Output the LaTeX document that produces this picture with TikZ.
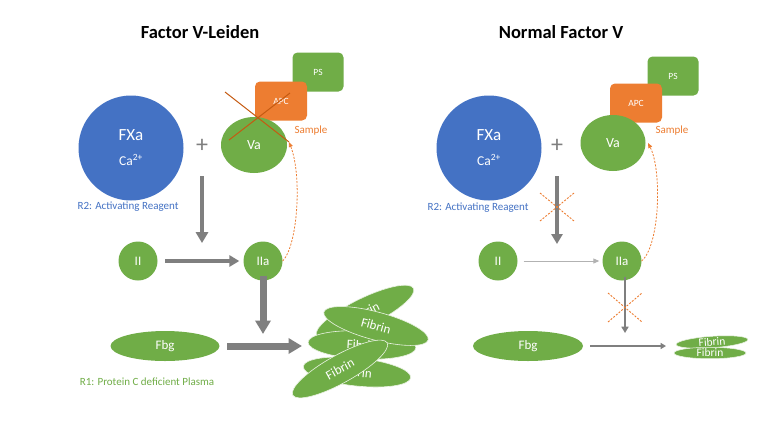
\documentclass[tikz,border=0pt]{standalone}
\usepackage{fontspec}
\setmainfont{Carlito}
\usetikzlibrary{arrows.meta,shapes.geometric,calc}
\definecolor{cblue}{HTML}{4472C4}
\definecolor{cgreen}{HTML}{70AD47}
\definecolor{corange}{HTML}{ED7D31}
\definecolor{cdark}{HTML}{C55A11}
\definecolor{cgray}{HTML}{7F7F7F}
\tikzset{
  title/.style={font=\bfseries\fontsize{18.5}{20}\selectfont},
  fxa/.style={circle,fill=cblue,minimum size=105pt,inner sep=0,text=white},
  gcirc/.style={circle,fill=cgreen,minimum size=39pt,inner sep=0,text=white,font=\fontsize{13}{15}\selectfont},
  gell/.style={ellipse,fill=cgreen,inner sep=0,text=white},
  fib/.style={ellipse,fill=cgreen,draw=white!85!cgreen,line width=0.6pt,inner sep=0,text=white,minimum width=108pt,minimum height=28pt,font=\fontsize{13}{15}\selectfont},
  fibs/.style={ellipse,fill=cgreen,draw=white!85!cgreen,line width=0.5pt,inner sep=0,text=white,minimum width=72pt,minimum height=11pt,font=\fontsize{11.5}{12}\selectfont},
  orect/.style={rectangle,rounded corners=5pt,fill=corange,minimum width=52pt,minimum height=39pt,inner sep=0,text=white,font=\fontsize{9.5}{11}\selectfont},
  grect/.style={rectangle,rounded corners=5pt,fill=cgreen,minimum width=51pt,minimum height=39pt,inner sep=0,text=white,font=\fontsize{9.5}{11}\selectfont},
  lbl/.style={font=\fontsize{11}{13}\selectfont,inner sep=0},
  garrow/.style 2 args={draw=cgray,line width=#1,-{Triangle[length=#2*0.9,width=#2]}},
  xline/.style={draw=corange,line width=0.9pt,dashed,dash pattern=on 2pt off 1.5pt},
  dcurve/.style={corange,line width=0.8pt,dashed,dash pattern=on 2pt off 1.5pt,-{Triangle[length=5pt,width=4pt]}},
}
\begin{document}
\begin{tikzpicture}[x=1pt,y=-1pt]
\useasboundingbox[fill=white] (0,0) rectangle (768,432);

% ---------------- Left panel ----------------
\node[title] (t1) at (200,32) {Factor V-Leiden};
\node[fxa] (fxa1) at (131,148) {};
\node[text=white,font=\fontsize{17}{19}\selectfont] (fxa1t) at (131,135) {FXa};
\node[text=white,font=\fontsize{13.5}{15}\selectfont] (ca1) at (131,160) {Ca\textsuperscript{2+}};
\node[text=cgray,font=\fontsize{24}{26}\selectfont] (plus1) at (202,146) {+};
\node[lbl,text=cblue] (r2a) at (128,207) {R2: Activating Reagent};

\node[grect] (ps1) at (318,72) {PS};
\node[orect] (apc1) at (281,101) {APC};
\node[gell,minimum width=66pt,minimum height=56pt,font=\fontsize{14}{16}\selectfont] (va1) at (254,145) {Va};
\node[lbl,text=corange] (s1) at (311,131) {Sample};
\draw[cdark,line width=1pt] (225,92) -- (289,142);
\draw[cdark,line width=1pt] (229,140) -- (290,93);

\node[gcirc] (ii1) at (138,261) {II};
\node[gcirc] (iia1) at (263,261) {IIa};
\node[gell,minimum width=109pt,minimum height=30pt,font=\fontsize{13}{15}\selectfont] (fbg1) at (165,346) {Fbg};
\node[lbl,text=cgreen] (r1) at (147,382) {R1: Protein C deficient Plasma};

\coordinate (d1s) at (202,176);
\coordinate (d1e) at (202,243);
\draw[garrow={4pt}{12pt}] (d1s) -- (d1e);
\coordinate (h0s) at (165,261);
\draw[garrow={4pt}{11pt}] (h0s) -- ([xshift=-4pt]iia1.west);
\coordinate (d2e) at (263,334);
\draw[garrow={7pt}{15pt}] ([yshift=5pt]iia1.south) -- (d2e);
\coordinate (h1s) at (227,346);
\coordinate (h1e) at (302,346);
\draw[garrow={7pt}{15pt}] (h1s) -- (h1e);
\draw[dcurve] (iia1.east) .. controls (298,245) and (302,175) .. (289,142);

% fibrin cluster
\node[fib,rotate=26] (f1) at (365,312) {Fibrin};
\node[fib,rotate=-3] (f2) at (362,345) {Fibrin};
\node[fib,rotate=-6] (f3) at (357,372) {Fibrin};
\node[fib,rotate=-15] (f4) at (376,326) {Fibrin};
\node[fib,rotate=29] (f5) at (340,369) {Fibrin};

% ---------------- Right panel ----------------
\node[title] (t2) at (561,32) {Normal Factor V};
\node[fxa] (fxa2) at (489,148) {};
\node[text=white,font=\fontsize{17}{19}\selectfont] (fxa2t) at (489,135) {FXa};
\node[text=white,font=\fontsize{13.5}{15}\selectfont] (ca2) at (489,160) {Ca\textsuperscript{2+}};
\node[text=cgray,font=\fontsize{24}{26}\selectfont] (plus2) at (557,146) {+};
\node[lbl,text=cblue] (r2b) at (478,208) {R2: Activating Reagent};

\node[grect] (ps2) at (673,76) {PS};
\node[orect] (apc2) at (636,103) {APC};
\node[gell,minimum width=65pt,minimum height=56pt,font=\fontsize{14}{16}\selectfont] (va2) at (613,143) {Va};
\node[lbl,text=corange] (s2) at (672,131) {Sample};

\node[gcirc] (ii2) at (498,261) {II};
\node[gcirc] (iia2) at (622,261) {IIa};
\node[gell,minimum width=110pt,minimum height=30pt,font=\fontsize{13}{15}\selectfont] (fbg2) at (528,346) {Fbg};

\coordinate (d3s) at (557,176);
\coordinate (d3e) at (557,244);
\draw[garrow={3.5pt}{11pt}] (d3s) -- (d3e);
\coordinate (x1) at (557,207);
\draw[xline] ($(x1)+(-17,-14)$) -- ($(x1)+(17,14)$);
\draw[xline] ($(x1)+(-17,14)$) -- ($(x1)+(17,-14)$);

\draw[draw=cgray!60,line width=1pt,-{Triangle[length=6pt,width=5pt]}] ([xshift=6pt]ii2.east) -- ([xshift=-3pt]iia2.west);
\coordinate (d4e) at (625,333);
\draw[garrow={2.4pt}{7pt}] ([xshift=3pt,yshift=4pt]iia2.south) -- (d4e);
\coordinate (x2) at (625,308);
\draw[xline] ($(x2)+(-17,-15)$) -- ($(x2)+(17,14)$);
\draw[xline] ($(x2)+(-17,14)$) -- ($(x2)+(17,-15)$);

\draw[dcurve] (iia2.east) .. controls (660,245) and (662,170) .. (648,143);

\coordinate (h2s) at (590,346);
\coordinate (h2e) at (666,346);
\draw[garrow={1.6pt}{6pt}] (h2s) -- (h2e);

\node[fibs,rotate=4] (f6) at (712,342) {Fibrin};
\node[fibs] (f7) at (710,353) {Fibrin};
\end{tikzpicture}
\end{document}
